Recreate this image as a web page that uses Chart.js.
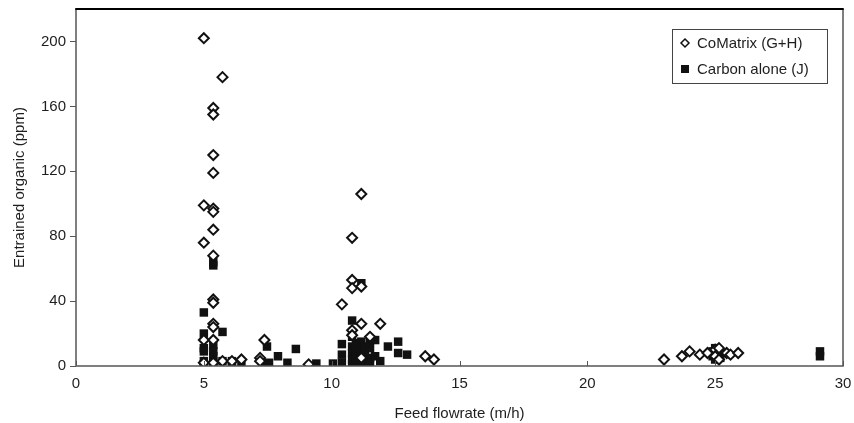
<!DOCTYPE html>
<html>
<head>
<meta charset="utf-8">
<script src="https://cdn.jsdelivr.net/npm/chart.js@4.4.1/dist/chart.umd.min.js"></script>
<style>
  html, body { margin: 0; padding: 0; background: #fff; }
  #wrap { width: 854px; height: 423px; position: relative; }
</style>
</head>
<body>
<div id="wrap"><canvas id="myChart"></canvas></div>
<script>
// CoMatrix (G+H) - open diamonds
const coMatrixX = [5.0, 5.0, 5.0, 5.0, 5.0,
  5.37, 5.37, 5.37, 5.37, 5.37, 5.37, 5.37, 5.37, 5.37, 5.37, 5.37, 5.37, 5.37, 5.37,
  5.73, 5.73, 6.1, 6.47, 7.2, 7.2, 7.37, 9.1,
  10.4, 10.8, 10.8, 10.8, 10.8, 10.8, 11.16, 11.16, 11.16, 11.16, 11.5, 11.9,
  13.66, 14.0,
  23.0, 23.7, 24.0, 24.4, 24.7, 25.0, 25.0, 25.15, 25.15, 25.45, 25.6, 25.9];
const coMatrixY = [202, 99, 76, 16, 2,
  159, 155, 130, 119, 97, 95, 84, 68, 41, 39, 26, 24, 16, 2,
  178, 3, 3, 4, 5, 3, 16, 1,
  38, 79, 53, 48, 22, 19, 106, 49, 26, 5, 18, 26,
  6, 4,
  4, 6, 9, 7, 8, 10, 6, 11, 4, 8, 7, 8];

// Carbon alone (J) - filled squares
const carbonX = [5.0, 5.0, 5.0, 5.0, 5.0, 5.0,
  5.37, 5.37, 5.37, 5.37, 5.37, 5.37, 5.37,
  5.73, 5.73, 6.1, 6.1, 6.47,
  7.4, 7.47, 7.55, 7.9, 8.27, 8.6, 9.4, 10.05,
  10.4, 10.4, 10.4,
  10.8, 10.8, 10.8, 10.8, 10.8, 10.8,
  10.95, 10.95, 10.95, 10.95,
  11.16, 11.16, 11.16, 11.16, 11.16, 11.16,
  11.3, 11.3, 11.3, 11.3,
  11.5, 11.5, 11.5, 11.5,
  11.7, 11.7, 11.9, 12.2, 12.6, 12.6, 12.95,
  24.9, 24.9, 25.0, 25.0, 25.0, 25.2, 25.2,
  29.1, 29.1];
const carbonY = [33, 20, 11, 9, 3, 1,
  64, 62, 13, 9, 6, 3, 1,
  21, 3, 3, 1, 2,
  1, 12, 2, 6, 2, 10.5, 1.5, 1.5,
  13.5, 7, 2,
  28, 18, 12, 8, 4, 1,
  14, 10, 6, 2,
  51, 15, 11, 7, 3, 0.5,
  12, 8, 4, 1,
  16, 11, 5, 2,
  16, 6, 3, 12, 15, 8, 7,
  9, 6, 11, 7, 4, 8, 5,
  9, 6];

const xTicks = [0, 5, 10, 15, 20, 25, 30];
const yTicks = [0, 40, 80, 120, 160, 200];
const legendLabels = ["CoMatrix (G+H)", "Carbon alone (J)"];

const FONT = "'Liberation Sans', Arial, sans-serif";
const TXT = "#1e1e1e";

const toPoints = (xs, ys) => xs.map((x, i) => ({ x: x, y: ys[i] }));

// frame + inward x ticks
const framePlugin = {
  id: "frame",
  afterDatasetsDraw(chart) {
    const { ctx, chartArea: a, scales } = chart;
    ctx.save();
    ctx.strokeStyle = "#555";
    ctx.lineWidth = 1.5;
    ctx.beginPath();
    ctx.moveTo(a.left, a.top);
    ctx.lineTo(a.left, a.bottom);
    ctx.lineTo(a.right, a.bottom);
    ctx.lineTo(a.right, a.top);
    ctx.stroke();
    ctx.strokeStyle = "#000";
    ctx.lineWidth = 2;
    ctx.beginPath();
    ctx.moveTo(a.left - 0.75, a.top);
    ctx.lineTo(a.right + 0.75, a.top);
    ctx.stroke();
    // x ticks point up into the plot
    ctx.strokeStyle = "#555";
    ctx.lineWidth = 1;
    xTicks.forEach(v => {
      const px = Math.round(scales.x.getPixelForValue(v)) + 0.5;
      ctx.beginPath();
      ctx.moveTo(px, a.bottom);
      ctx.lineTo(px, a.bottom - 5);
      ctx.stroke();
    });
    ctx.restore();
  }
};

// legend box in the top right corner
const legendPlugin = {
  id: "boxLegend",
  afterDraw(chart) {
    const { ctx } = chart;
    const bx = 672, by = 29, bw = 155, bh = 54;
    ctx.save();
    ctx.fillStyle = "#fff";
    ctx.fillRect(bx, by, bw, bh);
    ctx.strokeStyle = "#444";
    ctx.lineWidth = 1;
    ctx.strokeRect(bx + 0.5, by + 0.5, bw, bh);
    ctx.font = "15px " + FONT;
    ctx.fillStyle = TXT;
    ctx.textBaseline = "middle";
    const rows = [43, 69];
    // diamond
    ctx.beginPath();
    ctx.moveTo(685, rows[0] - 4);
    ctx.lineTo(689, rows[0]);
    ctx.lineTo(685, rows[0] + 4);
    ctx.lineTo(681, rows[0]);
    ctx.closePath();
    ctx.strokeStyle = "#111";
    ctx.lineWidth = 1.5;
    ctx.stroke();
    // square
    ctx.fillStyle = "#111";
    ctx.fillRect(681, rows[1] - 4, 8, 8);
    ctx.fillStyle = TXT;
    ctx.fillText(legendLabels[0], 697, rows[0] + 1);
    ctx.fillText(legendLabels[1], 697, rows[1] + 1);
    ctx.restore();
  }
};

document.addEventListener("DOMContentLoaded", () => {
  const ctx = document.getElementById("myChart").getContext("2d");

  new Chart(ctx, {
    type: "scatter",
    data: {
      datasets: [
        {
          label: legendLabels[0],
          data: toPoints(coMatrixX, coMatrixY),
          pointStyle: "rectRot",
          pointRadius: 5,
          pointBackgroundColor: "#fff",
          pointBorderColor: "#111",
          pointBorderWidth: 2
        },
        {
          label: legendLabels[1],
          data: toPoints(carbonX, carbonY),
          pointStyle: "rect",
          pointRadius: 6,
          pointBackgroundColor: "#111",
          pointBorderColor: "#111",
          pointBorderWidth: 0
        }
      ]
    },
    options: {
      responsive: true,
      maintainAspectRatio: false,
      animation: false,
      layout: { padding: { top: 9, right: 11, left: 0, bottom: 0 } },
      plugins: {
        legend: { display: false },
        tooltip: { enabled: false }
      },
      scales: {
        x: {
          type: "linear",
          min: 0,
          max: 30,
          afterBuildTicks: axis => { axis.ticks = xTicks.map(v => ({ value: v })); },
          afterFit: axis => { axis.height = 57; axis.paddingRight = 0; axis.paddingLeft = 0; },
          border: { display: false },
          grid: { display: false, drawTicks: false },
          ticks: { color: TXT, font: { family: FONT, size: 15 }, padding: 9, maxRotation: 0 },
          title: {
            display: true,
            text: "Feed flowrate (m/h)",
            color: TXT,
            font: { family: FONT, size: 15 },
            padding: { top: 4, bottom: 0 }
          }
        },
        y: {
          type: "linear",
          min: 0,
          max: 220,
          afterBuildTicks: axis => { axis.ticks = yTicks.map(v => ({ value: v })); },
          afterFit: axis => { axis.width = 76; axis.paddingTop = 0; axis.paddingBottom = 0; },
          border: { display: false },
          grid: { drawOnChartArea: false, drawTicks: true, tickLength: 6, color: "#555", lineWidth: 1 },
          ticks: { color: TXT, font: { family: FONT, size: 15 }, padding: 4 },
          title: {
            display: true,
            text: "Entrained organic (ppm)",
            color: TXT,
            font: { family: FONT, size: 15 },
            padding: { top: 11, bottom: 0 }
          }
        }
      }
    },
    plugins: [framePlugin, legendPlugin]
  });
});
</script>
</body>
</html>
